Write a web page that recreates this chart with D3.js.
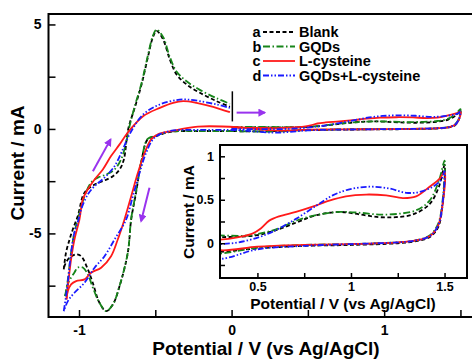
<!DOCTYPE html>
<html>
<head>
<meta charset="utf-8">
<script src="https://cdn.jsdelivr.net/npm/d3@7/dist/d3.min.js"></script>
<style>
body { margin: 0; background: #fff; }
text { font-family: "Liberation Sans", Arial, sans-serif; font-weight: bold; fill: #000; }
</style>
</head>
<body>
<div id="chart"></div>
<script>
// cyclic voltammograms, [potential V, current mA]
// anodic sweep from -1.1 V up to the 0 V marker
const blankFwd = [[-1.10,-6.72],[-1.085,-5.91],[-1.062,-5.29],[-1.041,-4.81],[-1.008,-4.17],[-0.964,-3.05],[-0.898,-2.66],[-0.844,-2.50],[-0.778,-2.26],[-0.734,-1.94],[-0.706,-1.46],[-0.678,-0.02],[-0.634,1.03],[-0.590,2.13],[-0.549,3.42],[-0.516,4.38],[-0.492,4.69],[-0.449,4.28],[-0.405,3.33],[-0.361,2.61],[-0.295,2.13],[-0.208,1.73],[-0.098,1.33],[-0.011,1.06]];
const gqdFwd = [[-1.091,-8.0],[-1.073,-7.2],[-1.052,-5.92],[-1.03,-4.95],[-1.008,-4.33],[-0.964,-3.22],[-0.921,-2.57],[-0.877,-2.33],[-0.822,-2.18],[-0.767,-1.94],[-0.724,-1.46],[-0.691,-0.65],[-0.669,0.13],[-0.634,1.1],[-0.59,2.2],[-0.549,3.5],[-0.516,4.45],[-0.492,4.75],[-0.449,4.4],[-0.405,3.45],[-0.361,2.75],[-0.295,2.28],[-0.208,1.87],[-0.098,1.47],[-0.011,1.2]];
const cysFwd = [[-1.082,-8.16],[-1.073,-7.52],[-1.052,-6.24],[-1.03,-5.29],[-0.997,-4.33],[-0.975,-3.37],[-0.942,-2.89],[-0.898,-2.42],[-0.844,-1.94],[-0.790,-1.30],[-0.734,-0.74],[-0.680,-0.17],[-0.580,0.61],[-0.470,1.01],[-0.383,1.25],[-0.317,1.33],[-0.230,1.25],[-0.121,1.06],[-0.011,0.80]];
const mixFwd = [[-1.10,-8.72],[-1.085,-8.0],[-1.069,-7.04],[-1.052,-5.92],[-1.03,-4.95],[-1.003,-4.33],[-0.986,-3.85],[-0.942,-3.13],[-0.898,-2.74],[-0.833,-2.33],[-0.767,-1.78],[-0.713,-0.98],[-0.669,-0.26],[-0.580,0.69],[-0.470,1.17],[-0.361,1.38],[-0.295,1.41],[-0.208,1.33],[-0.098,1.17],[-0.011,1.01]];

// from 0 V up to 1.5 V, then back down to -1.1 V
const blankLoop = [[0.0,0.06],[0.15,0.07],[0.3,0.07],[0.49,0.09],[0.6,0.15],[0.71,0.24],[0.81,0.32],[0.94,0.36],[1.05,0.33],[1.15,0.30],[1.24,0.30],[1.33,0.33],[1.42,0.45],[1.47,0.65],[1.50,0.90],[1.49,0.45],[1.465,0.18],[1.42,0.07],[1.34,0.02],[1.25,0.0],[1.0,-0.02],[0.75,-0.03],[0.5,-0.06],[0.3,-0.10],[0.15,-0.12],[0.04,-0.11],[-0.21,-0.10],[-0.40,-0.14],[-0.50,-0.36],[-0.55,-0.50],[-0.593,-1.62],[-0.626,-3.05],[-0.658,-4.33],[-0.680,-5.92],[-0.734,-7.52],[-0.778,-8.40],[-0.822,-8.72],[-0.866,-8.32],[-0.910,-7.36],[-0.942,-6.72],[-0.986,-6.09],[-1.019,-6.0],[-1.062,-6.16],[-1.091,-6.48],[-1.10,-6.72]];
const gqdLoop = [[0.0,0.10],[0.15,0.10],[0.3,0.09],[0.455,0.09],[0.6,0.16],[0.72,0.27],[0.83,0.33],[0.94,0.36],[1.05,0.35],[1.15,0.33],[1.26,0.34],[1.35,0.38],[1.42,0.49],[1.47,0.72],[1.50,0.95],[1.49,0.5],[1.465,0.22],[1.42,0.09],[1.34,0.03],[1.25,0.01],[1.0,-0.01],[0.75,-0.02],[0.5,-0.05],[0.3,-0.12],[0.15,-0.12],[0.04,-0.11],[-0.21,-0.10],[-0.40,-0.13],[-0.50,-0.33],[-0.55,-0.48],[-0.593,-1.6],[-0.626,-3.0],[-0.658,-4.3],[-0.680,-5.9],[-0.734,-7.5],[-0.778,-8.4],[-0.822,-8.72],[-0.866,-8.32],[-0.910,-7.58],[-0.942,-6.96],[-0.975,-6.63],[-1.008,-6.63],[-1.03,-6.87],[-1.069,-7.34],[-1.091,-8.0]];
const cysLoop = [[0.0,0.06],[0.15,0.05],[0.295,0.04],[0.40,0.07],[0.473,0.11],[0.518,0.17],[0.563,0.26],[0.616,0.31],[0.706,0.36],[0.795,0.42],[0.884,0.49],[0.973,0.54],[1.081,0.56],[1.188,0.55],[1.277,0.52],[1.348,0.54],[1.42,0.65],[1.473,0.74],[1.50,0.82],[1.49,0.45],[1.465,0.2],[1.42,0.08],[1.34,0.03],[1.25,0.01],[1.0,-0.01],[0.75,-0.02],[0.5,-0.04],[0.3,-0.08],[0.15,0.0],[0.04,0.08],[-0.221,0.11],[-0.396,-0.11],[-0.483,-0.26],[-0.527,-0.50],[-0.570,-1.14],[-0.614,-2.10],[-0.658,-3.22],[-0.702,-4.33],[-0.746,-5.29],[-0.790,-6.09],[-0.855,-6.64],[-0.921,-6.88],[-0.964,-7.20],[-1.019,-7.28],[-1.052,-7.44],[-1.073,-7.76],[-1.082,-8.16]];
const mixLoop = [[0.0,0.0],[0.15,-0.01],[0.295,-0.01],[0.40,0.01],[0.509,0.07],[0.598,0.15],[0.706,0.28],[0.813,0.43],[0.902,0.55],[0.991,0.62],[1.098,0.65],[1.205,0.63],[1.295,0.58],[1.366,0.59],[1.438,0.65],[1.482,0.73],[1.50,0.83],[1.49,0.47],[1.465,0.2],[1.42,0.08],[1.34,0.03],[1.25,0.01],[1.0,-0.01],[0.75,-0.03],[0.5,-0.07],[0.3,-0.18],[0.15,-0.12],[0.04,-0.06],[-0.221,-0.05],[-0.405,-0.10],[-0.505,-0.42],[-0.56,-1.14],[-0.603,-2.10],[-0.647,-3.22],[-0.691,-4.33],[-0.767,-5.29],[-0.833,-6.09],[-0.898,-6.64],[-0.964,-7.36],[-1.03,-7.84],[-1.073,-8.24],[-1.10,-8.72]];

const letters = ["a", "b", "c", "d"];
const names = ["Blank", "GQDs", "L-cysteine", "GQDs+L-cysteine"];

const mainXTicks = [-1, -0.5, 0, 0.5, 1, 1.5];
const mainYTicks = [-7.5, -5, -2.5, 0, 2.5, 5];
const insetXTicks = [0.5, 0.75, 1, 1.25, 1.5];
const insetYTicks = [-0.25, 0, 0.25, 0.5, 0.75, 1];
const mainXLabels = [-1, 0, 1];
const mainYLabels = [-5, 0, 5];
const insetXLabels = [0.5, 1, 1.5];
const insetYLabels = [0, 0.5, 1];

// purple sweep arrows [[E0, I0], [E1, I1]]
const arrows = [[[-0.909, -2.02], [-0.793, -0.50]], [[-0.538, -2.81], [-0.593, -4.41]], [[0.033, 0.78], [0.218, 0.78]]];
const startMark = [[0.005, 1.8], [0.005, 0.36]];

const series = [
    {fwd: blankFwd, loop: blankLoop, color: "#000000", dash: "4,2.5"},
    {fwd: gqdFwd, loop: gqdLoop, color: "#17851a", dash: "7,2.5,1.5,2.5"},
    {fwd: cysFwd, loop: cysLoop, color: "#ff1a1a", dash: null},
    {fwd: mixFwd, loop: mixLoop, color: "#1a1aff", dash: "6,2,1.5,2,1.5,2"}
];

const width = 472, height = 359;
let svg = d3.select("#chart").append("svg")
    .attr("width", width)
    .attr("height", height);

let defs = svg.append("defs");
defs.append("marker")
    .attr("id", "head")
    .attr("viewBox", "0 0 10 10")
    .attr("refX", 8).attr("refY", 5)
    .attr("markerWidth", 4).attr("markerHeight", 4)
    .attr("orient", "auto")
    .append("path")
    .attr("d", "M0,0 L10,5 L0,10 z")
    .attr("fill", "#9933ee");

// main scales
let x = d3.scaleLinear().domain([-1.2, 1.6]).range([48.5, 475.7]);
let y = d3.scaleLinear().domain([-9, 5.5]).range([317, 14]);

// inset scales
let xi = d3.scaleLinear().domain([0.3, 1.62]).range([220, 467]);
let yi = d3.scaleLinear().domain([-0.4, 1.13]).range([278, 145]);

defs.append("clipPath").attr("id", "clipMain").append("rect")
    .attr("x", x.range()[0]).attr("y", y.range()[1])
    .attr("width", x.range()[1] - x.range()[0]).attr("height", y.range()[0] - y.range()[1]);
defs.append("clipPath").attr("id", "clipInset").append("rect")
    .attr("x", xi.range()[0]).attr("y", yi.range()[1])
    .attr("width", xi.range()[1] - xi.range()[0]).attr("height", yi.range()[0] - yi.range()[1]);

function makeLine(sx, sy) {
    return d3.line()
        .x(function(d) { return sx(d[0]); })
        .y(function(d) { return sy(d[1]); })
        .curve(d3.curveCatmullRom.alpha(0.5));
}

function styleAxis(g, size) {
    g.select(".domain").remove();
    g.selectAll("line").attr("stroke-width", 1.5);
    g.selectAll("text")
        .attr("font-family", "Liberation Sans, Arial, sans-serif")
        .attr("font-weight", "bold")
        .attr("font-size", size);
}

function fmt(labels) {
    return function(d) { return labels.indexOf(d) >= 0 ? String(d) : ""; };
}

// ---- main plot
let mainLine = makeLine(x, y);
let curves = svg.append("g").attr("clip-path", "url(#clipMain)");
series.forEach(function(s) {
    [s.fwd, s.loop].forEach(function(pts) {
        curves.append("path")
            .datum(pts)
            .attr("fill", "none")
            .attr("stroke", s.color)
            .attr("stroke-width", 1.8)
            .attr("stroke-dasharray", s.dash)
            .attr("d", mainLine);
    });
});

svg.append("line")
    .attr("x1", x(startMark[0][0])).attr("y1", y(startMark[0][1]))
    .attr("x2", x(startMark[1][0])).attr("y2", y(startMark[1][1]))
    .attr("stroke", "#000").attr("stroke-width", 1.5);

arrows.forEach(function(a) {
    svg.append("line")
        .attr("x1", x(a[0][0])).attr("y1", y(a[0][1]))
        .attr("x2", x(a[1][0])).attr("y2", y(a[1][1]))
        .attr("stroke", "#9933ee")
        .attr("stroke-width", 2)
        .attr("marker-end", "url(#head)");
});

svg.append("g")
    .attr("transform", "translate(0," + y.range()[0] + ")")
    .call(d3.axisBottom(x).tickValues(mainXTicks).tickSize(-7).tickPadding(8).tickFormat(fmt(mainXLabels)))
    .call(styleAxis, 14);

svg.append("g")
    .attr("transform", "translate(" + x.range()[0] + ",0)")
    .call(d3.axisLeft(y).tickValues(mainYTicks).tickSize(-7).tickPadding(7).tickFormat(fmt(mainYLabels)))
    .call(styleAxis, 14);

svg.append("rect")
    .attr("x", x.range()[0]).attr("y", y.range()[1])
    .attr("width", 440).attr("height", y.range()[0] - y.range()[1])
    .attr("fill", "none").attr("stroke", "#000").attr("stroke-width", 2);

svg.append("text")
    .attr("x", 266).attr("y", 355)
    .style("text-anchor", "middle")
    .style("font-size", "19px")
    .text("Potential / V (vs Ag/AgCl)");

svg.append("text")
    .attr("transform", "translate(24," + 163 + ") rotate(-90)")
    .style("text-anchor", "middle")
    .style("font-size", "19px")
    .text("Current / mA");

// legend
let legend = svg.append("g");
series.forEach(function(s, i) {
    let base = 37 + i * 14.5;
    legend.append("text").attr("x", 252.5).attr("y", base).style("font-size", "14.5px").text(letters[i]);
    legend.append("line")
        .attr("x1", 263).attr("x2", 295)
        .attr("y1", base - 5).attr("y2", base - 5)
        .attr("stroke", s.color).attr("stroke-width", 1.8)
        .attr("stroke-dasharray", s.dash);
    legend.append("text").attr("x", 299).attr("y", base).style("font-size", "14.5px").text(names[i]);
});

// ---- inset
svg.append("rect")
    .attr("x", xi.range()[0]).attr("y", yi.range()[1])
    .attr("width", xi.range()[1] - xi.range()[0]).attr("height", yi.range()[0] - yi.range()[1])
    .attr("fill", "#fff");

let insetLine = makeLine(xi, yi);
let insetCurves = svg.append("g").attr("clip-path", "url(#clipInset)");
series.forEach(function(s) {
    insetCurves.append("path")
        .datum(s.loop)
        .attr("fill", "none")
        .attr("stroke", s.color)
        .attr("stroke-width", 1.8)
        .attr("stroke-dasharray", s.dash)
        .attr("d", insetLine);
});

svg.append("g")
    .attr("transform", "translate(0," + yi.range()[0] + ")")
    .call(d3.axisBottom(xi).tickValues(insetXTicks).tickSize(-5).tickPadding(4).tickFormat(fmt(insetXLabels)))
    .call(styleAxis, 12.5);

svg.append("g")
    .attr("transform", "translate(" + xi.range()[0] + ",0)")
    .call(d3.axisLeft(yi).tickValues(insetYTicks).tickSize(-5).tickPadding(6).tickFormat(fmt(insetYLabels)))
    .call(styleAxis, 12.5);

svg.append("rect")
    .attr("x", xi.range()[0]).attr("y", yi.range()[1])
    .attr("width", xi.range()[1] - xi.range()[0]).attr("height", yi.range()[0] - yi.range()[1])
    .attr("fill", "none").attr("stroke", "#000").attr("stroke-width", 2);

svg.append("text")
    .attr("x", 343).attr("y", 309)
    .style("text-anchor", "middle")
    .style("font-size", "15.5px")
    .text("Potential / V (vs Ag/AgCl)");

svg.append("text")
    .attr("transform", "translate(194," + 212 + ") rotate(-90)")
    .style("text-anchor", "middle")
    .style("font-size", "15.5px")
    .text("Current / mA");
</script>
</body>
</html>
